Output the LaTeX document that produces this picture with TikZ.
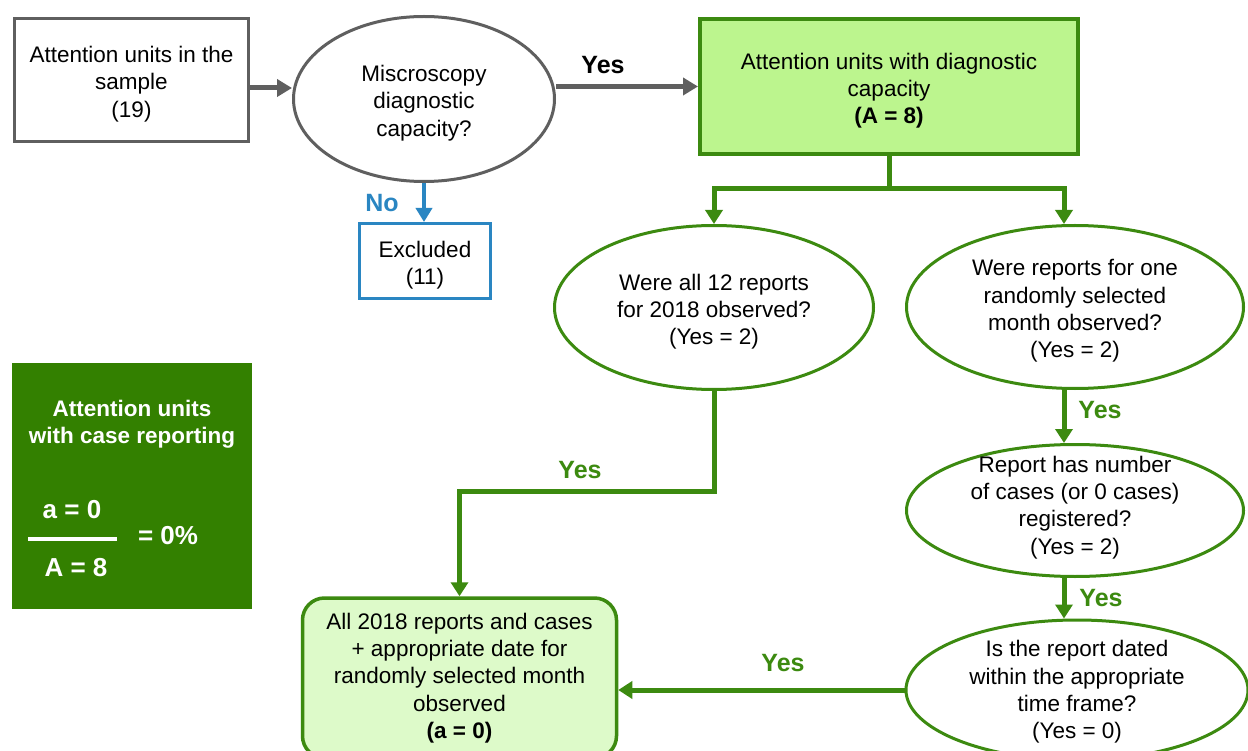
\documentclass[tikz,border=0pt]{standalone}
\usepackage{fontspec}
\setmainfont{Liberation Sans}
\usetikzlibrary{shapes.geometric,arrows.meta}
\definecolor{gry}{HTML}{5F5F5F}
\definecolor{grn}{HTML}{3C8A10}
\definecolor{dkg}{HTML}{338000}
\definecolor{lgA}{HTML}{BCF58E}
\definecolor{lgB}{HTML}{DDFAC9}
\definecolor{blu}{HTML}{2A86C2}
\newcommand\myfs{\fontsize{22.5}{27.3}\selectfont}
\newcommand\bigfs{\fontsize{26}{31}\selectfont\bfseries}
\newcommand\lblfs{\fontsize{25}{30}\selectfont\bfseries}
\begin{document}
\begin{tikzpicture}[x=1pt,y=-1pt,
 every node/.style={font=\myfs, align=center, inner sep=0pt},
 rbox/.style={draw=#1, rectangle, line width=3pt},
 oval/.style={draw=grn, ellipse, line width=3pt, fill=white},
 txt/.style={label={[yshift=-4pt]center:{#1}}},
 txtup/.style={label={[yshift=3pt]center:{#1}}},
 txtdn/.style={label={[yshift=-2pt]center:{#1}}},
 grarr/.style={draw=gry, line width=5pt, -{Triangle[length=15pt,width=17pt]}},
 blarr/.style={draw=blu, line width=4.5pt, -{Triangle[length=14pt,width=16pt]}},
 gnline/.style={draw=grn, line width=5pt},
 gnarr/.style={draw=grn, line width=5pt, -{Triangle[length=14pt,width=17pt]}},
 lbl/.style={font=\lblfs}
]
\useasboundingbox (0,0) rectangle (1248,751);
\fill[white] (0,0) rectangle (1248,751);
\clip (0,0) rectangle (1248,751);

% nodes
\node[rbox=gry, fill=white, minimum width=234pt, minimum height=123pt,
  txt={Attention units in the\\sample\\(19)}] (b1) at (131.5,80) {};
\node[ellipse, draw=gry, line width=3pt, fill=white, minimum width=261pt, minimum height=165pt,
  txt={Miscroscopy\\diagnostic\\capacity?}] (ell1) at (424,99) {};
\node[rbox=grn, line width=4pt, fill=lgA, minimum width=378pt, minimum height=135pt,
  txt={Attention units with diagnostic\\capacity\\\textbf{(A = 8)}}] (gbox) at (889,86.5) {};
\node[rbox=blu, fill=white, minimum width=131pt, minimum height=75pt,
  txt={Excluded\\(11)}] (excl) at (425,261) {};

\node[oval, minimum width=319pt, minimum height=164pt,
  txt={Were all 12 reports\\for 2018 observed?\\(Yes = 2)}] (ell2) at (714,307.5) {};
\node[oval, minimum width=337pt, minimum height=163pt,
  txt={Were reports for one\\randomly selected\\month observed?\\(Yes = 2)}] (ell3) at (1075,307) {};
\node[oval, minimum width=337pt, minimum height=132pt,
  txtup={Report has number\\of cases (or 0 cases)\\registered?\\(Yes = 2)}] (ell4) at (1075,510.5) {};
\node[oval, minimum width=342pt, minimum height=140pt,
  txtdn={Is the report dated\\within the appropriate\\time frame?\\(Yes = 0)}] (ell5) at (1077,690) {};

\node[draw=grn, line width=3.5pt, fill=lgB, rounded corners=22pt, minimum width=314pt, minimum height=160pt] (lbox) at (459.5,678) {All 2018 reports and cases\\+ appropriate date for\\randomly selected month\\observed\\\textbf{(a = 0)}};

% summary box
\node[fill=dkg, minimum width=240pt, minimum height=246pt] (dbox) at (132,486) {};
\node[text=white, font=\myfs\bfseries] (dt) at (132,424) {Attention units\\with case reporting};
\node[text=white, font=\bigfs] (dnum) at (72,510) {a = 0};
\node[text=white, font=\bigfs] (dden) at (76,568) {A = 8};
\node[text=white, font=\bigfs] (dres) at (168,536) {= 0\%};
\draw[white, line width=4pt] (28,539) -- (117,539);

% labels
\node[lbl] (yes1) at (603,65) {Yes};
\node[lbl, text=blu] (no) at (382,203) {No};
\node[lbl, text=grn] (yes2) at (580,470) {Yes};
\node[lbl, text=grn] (yes3) at (1100,410) {Yes};
\node[lbl, text=grn] (yes4) at (1101,598) {Yes};
\node[lbl, text=grn] (yes5) at (783,663) {Yes};

% connectors
\draw[grarr] (b1.east |- 0,88) -- (ell1.west |- 0,88);
\draw[grarr] (ell1.east |- gbox.west) -- (gbox.west);
\draw[blarr] (ell1.south) -- (ell1.south |- excl.north);
\draw[gnline] (gbox.south) -- (gbox.south |- 0,189) coordinate (j);
\draw[gnarr] (j) -| (ell2.north);
\draw[gnarr] (j) -| ([xshift=-11pt]ell3.north);
\draw[gnarr] ([xshift=-11pt]ell3.south) -- ([xshift=-11pt]ell4.north);
\draw[gnarr] ([xshift=-11pt]ell4.south) -- ([xshift=-13pt]ell5.north);
\draw[gnarr] (ell2.south) |- (lbox.north |- 0,491) -- (lbox.north);
\draw[gnarr] (ell5.west) -- (lbox.east |- ell5.west);
\end{tikzpicture}
\end{document}
